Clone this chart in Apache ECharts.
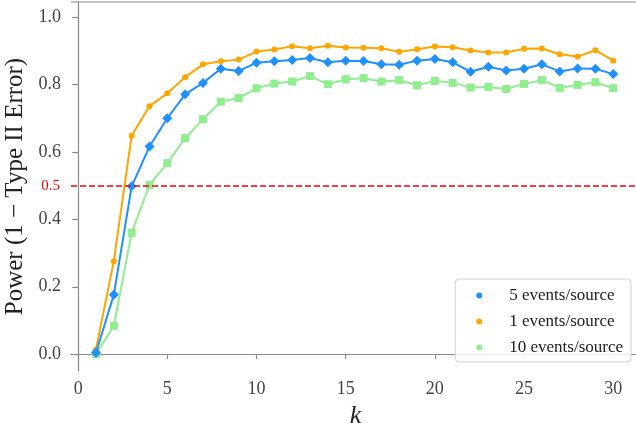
<!DOCTYPE html>
<html>
<head>
<meta charset="utf-8">
<script src="https://cdn.jsdelivr.net/npm/echarts@6/dist/echarts.min.js"></script>
<style>html,body{margin:0;padding:0;background:#fff;}#c{width:636px;height:426px;}</style>
</head>
<body>
<div id="c"></div>
<script>
const ks = [1,2,3,4,5,6,7,8,9,10,11,12,13,14,15,16,17,18,19,20,21,22,23,24,25,26,27,28,29,30];
const power5 = [0.004,0.176,0.498,0.616,0.700,0.771,0.805,0.847,0.840,0.865,0.869,0.873,0.879,0.866,0.871,0.870,0.860,0.859,0.871,0.876,0.866,0.838,0.853,0.842,0.847,0.860,0.839,0.848,0.847,0.831];
const power1 = [0.014,0.276,0.648,0.736,0.774,0.822,0.860,0.869,0.874,0.898,0.904,0.914,0.908,0.915,0.910,0.909,0.908,0.897,0.905,0.913,0.911,0.901,0.895,0.895,0.906,0.907,0.890,0.883,0.902,0.871];
const power10 = [0.000,0.084,0.360,0.502,0.567,0.641,0.697,0.749,0.760,0.789,0.803,0.809,0.825,0.801,0.816,0.819,0.809,0.813,0.798,0.811,0.805,0.791,0.793,0.787,0.802,0.813,0.790,0.799,0.807,0.789];
const xTicks = [0,5,10,15,20,25,30];
const yTicks = [0.0,0.2,0.4,0.6,0.8,1.0];
const threshold = 0.5;
const names = ['5 events/source','1 events/source','10 events/source'];

const FONT = 'Liberation Serif';
const chart = echarts.init(document.getElementById('c'), null, {renderer:'canvas'});
function pairs(v){ return ks.map((k,i)=>[k,v[i]]); }
const axisLineStyle = {color:'#8a8a8a', width:1.2};
chart.setOption({
  animation:false,
  backgroundColor:'#fff',
  grid:{left:71, top:2, width:569, height:369, containLabel:false, outerBoundsMode:'none'},
  xAxis:{type:'value', min:-0.4, max:31.5,
    axisLine:{show:true, lineStyle:axisLineStyle},
    axisTick:{show:true, length:5, lineStyle:axisLineStyle, customValues:xTicks},
    axisLabel:{fontFamily:FONT, fontSize:18, color:'#444', margin:9, customValues:xTicks},
    splitLine:{show:false},
    name:'k', nameLocation:'middle', nameGap:29,
    nameTextStyle:{fontFamily:FONT, fontStyle:'italic', fontSize:26, color:'#222'}
  },
  yAxis:{type:'value', min:-0.05, max:1.045,
    axisLine:{show:true, lineStyle:axisLineStyle},
    axisTick:{show:true, length:6, lineStyle:axisLineStyle, customValues:yTicks},
    axisLabel:{fontFamily:FONT, fontSize:18, color:'#444', margin:10, customValues:yTicks,
      formatter:v=>v.toFixed(1)},
    splitLine:{show:false},
    name:'Power (1 \u2212 Type II Error)', nameLocation:'middle', nameGap:41, nameRotate:90,
    nameTextStyle:{fontFamily:FONT, fontSize:25, color:'#222'}
  },
  graphic:[{type:'line', shape:{x1:71,y1:2,x2:636,y2:2}, style:{stroke:'#8a8a8a', lineWidth:1.2}, silent:true}],
  legend:{
    data:names.map(n=>({name:n, icon:'circle'})),
    orient:'vertical', right:5, bottom:64,
    itemWidth:6, itemHeight:6, itemGap:9,
    padding:[8,8,6,21],
    borderColor:'#d0d0d0', borderWidth:1, borderRadius:4, backgroundColor:'rgba(255,255,255,0.85)',
    textStyle:{fontFamily:FONT, fontSize:17, color:'#222', padding:[0,0,0,22]}
  },
  series:[
    {name:names[0], type:'line', data:pairs(power5), color:'#1E90FF',
      symbol:'diamond', symbolSize:10, lineStyle:{width:2}, z:3,
      markLine:{silent:true, symbol:'none', animation:false,
        lineStyle:{color:'#ff0000', type:[6,3], width:1.5},
        label:{show:true, position:'start', formatter:'0.5', color:'#ff0000', fontFamily:FONT, fontSize:15, distance:11},
        data:[{yAxis:threshold}]}},
    {name:names[1], type:'line', data:pairs(power1), color:'#FFA500',
      symbol:'circle', symbolSize:6, lineStyle:{width:2}, z:2},
    {name:names[2], type:'line', data:pairs(power10), color:'#90EE90',
      symbol:'rect', symbolSize:8, lineStyle:{width:2}, z:1}
  ]
});
</script>
</body>
</html>
